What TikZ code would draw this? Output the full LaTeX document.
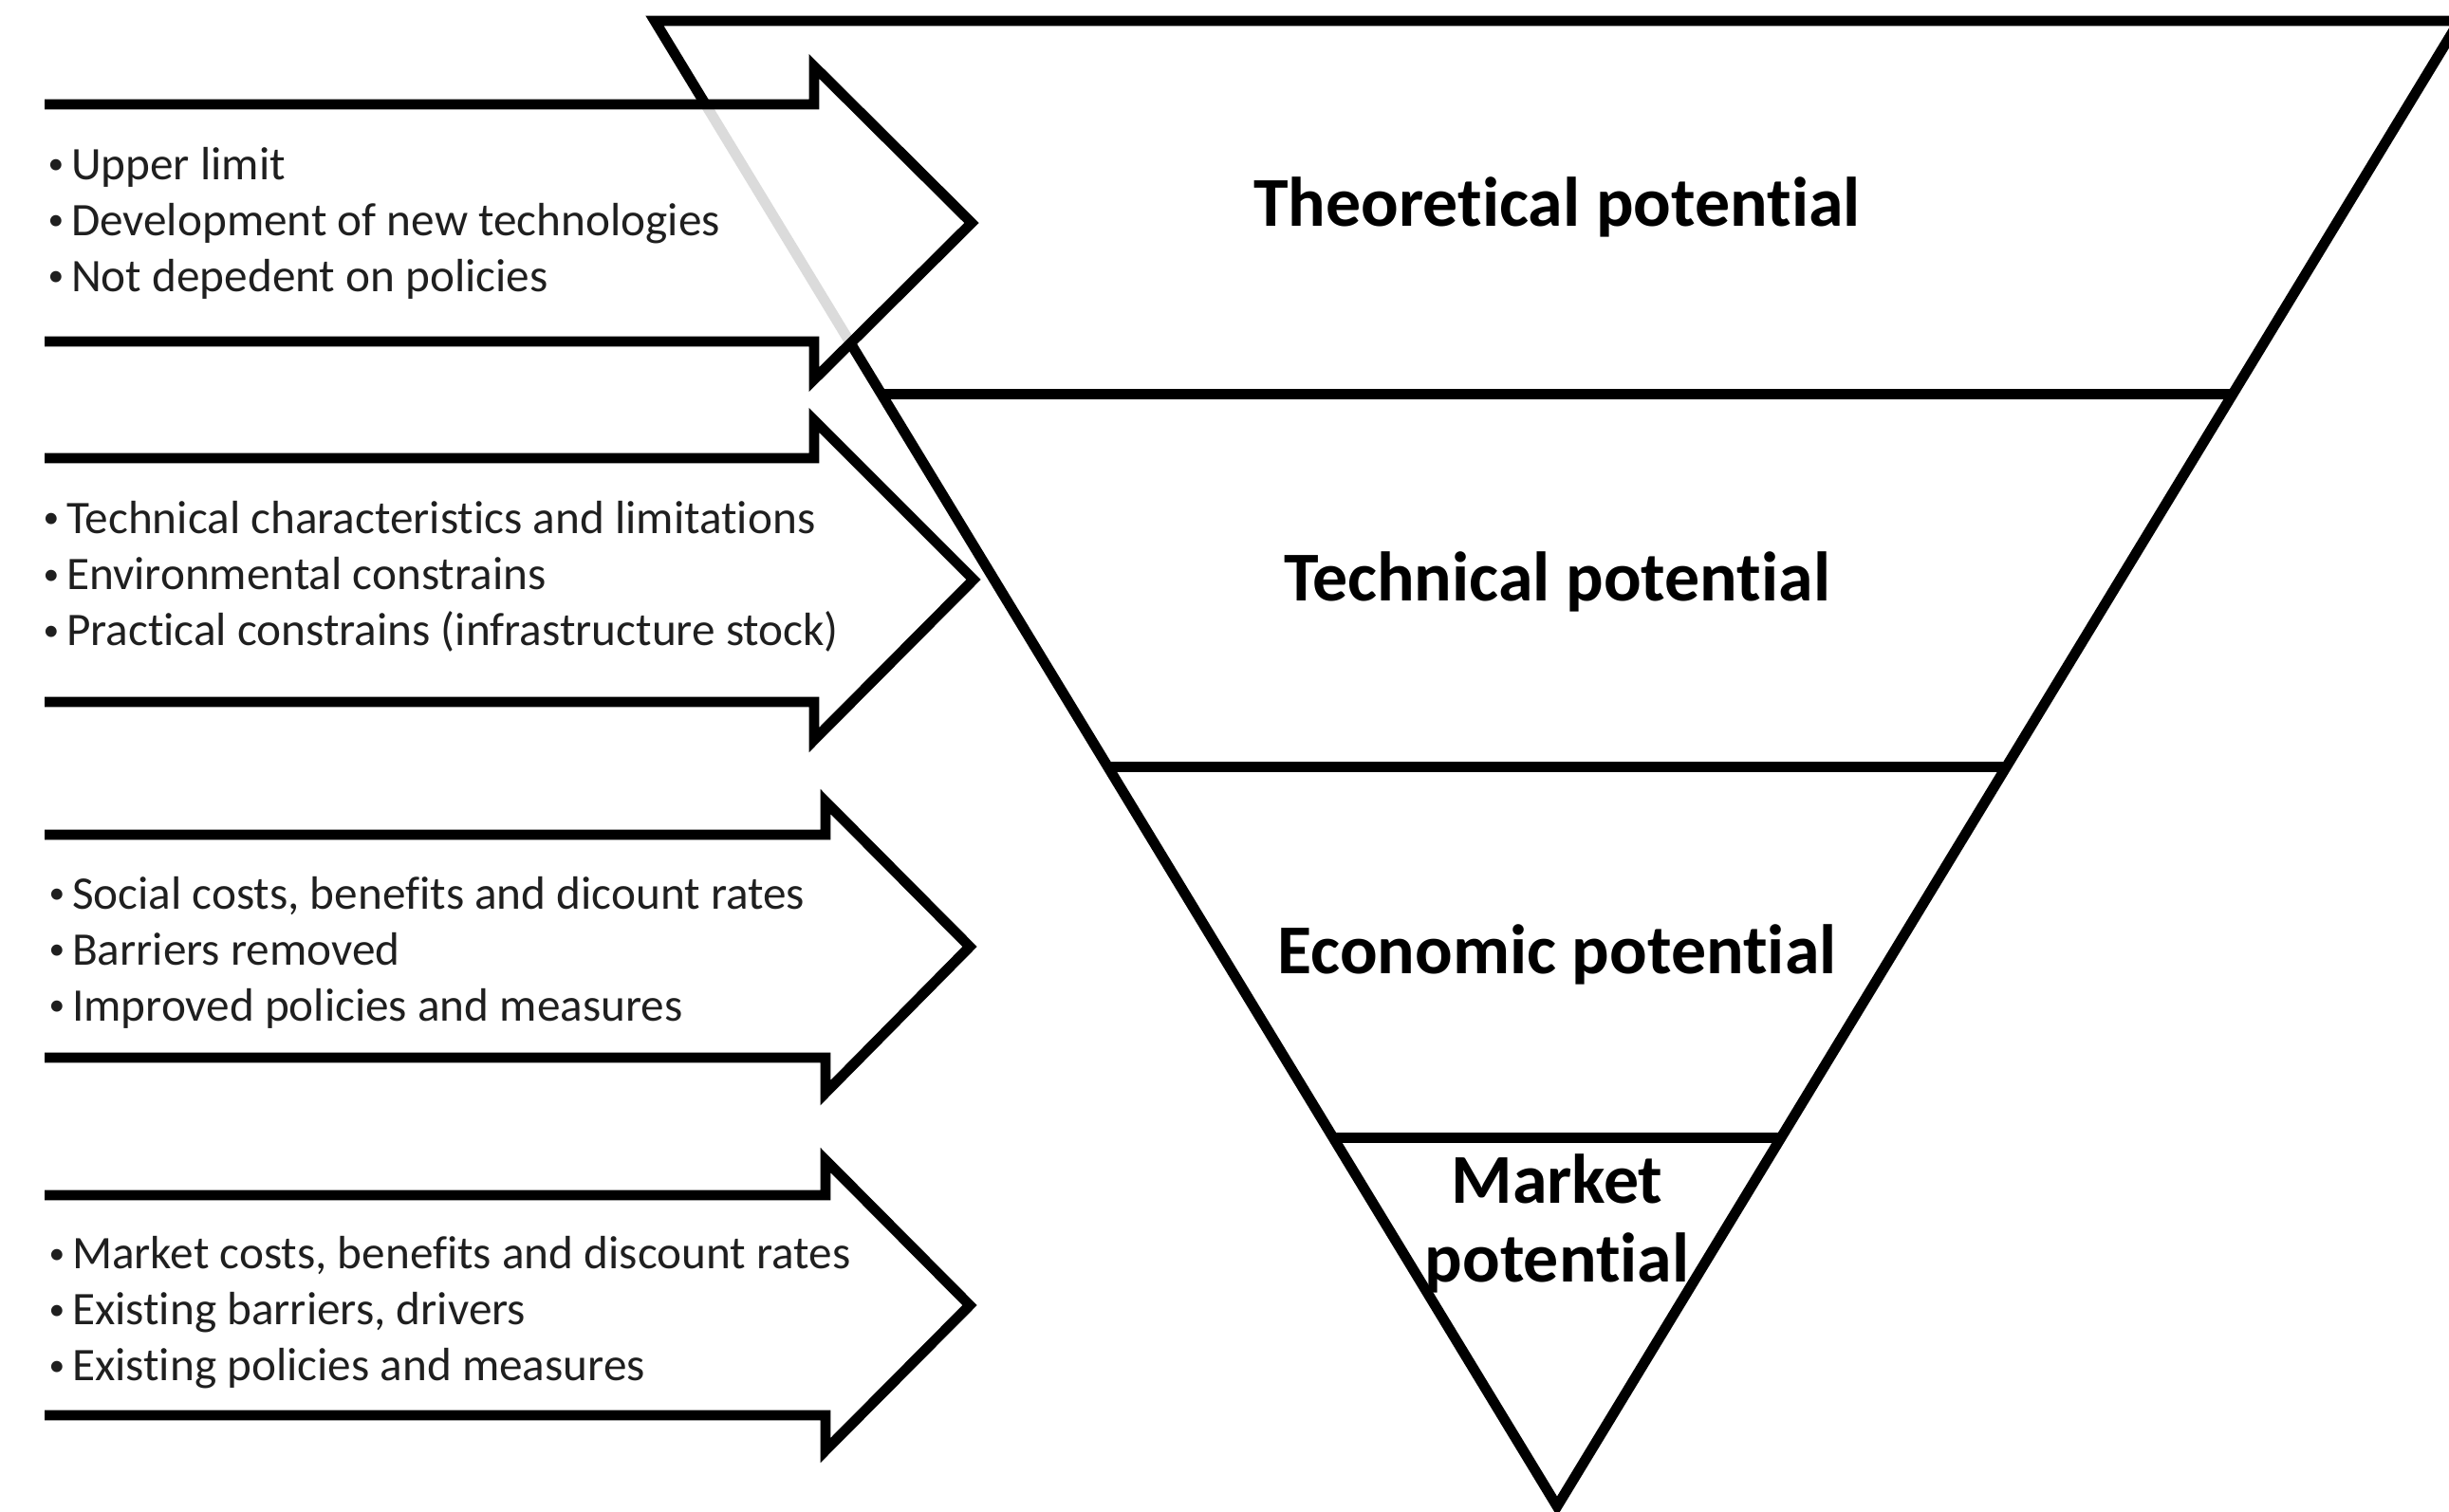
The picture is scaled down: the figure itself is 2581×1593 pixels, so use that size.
\documentclass[tikz,border=0pt]{standalone}
\usepackage{fontspec}
\setmainfont{Carlito}[Ligatures={NoCommon}]
\usetikzlibrary{calc}
\newcommand\bu{\raisebox{1.6pt}{\fontsize{9.5}{9.5}\selectfont •}\kern 2.2pt}
\begin{document}
\begin{tikzpicture}[x=0.01cm,y=-0.01cm,
  edge/.style={line width=3.1pt, line join=miter, miter limit=20},
  bul/.style={anchor=west, inner sep=0pt, align=left, text=black!88,
    font=\fontsize{14}{16.8}\selectfont},
  ttl/.style={inner sep=0pt, align=center,
    font=\fontsize{21}{23.6}\selectfont\bfseries}]
\useasboundingbox (0,0) rectangle (2581,1593);
% funnel
\coordinate (TL) at (690,22);
\coordinate (TR) at (2592,22);
\coordinate (V) at (1641,1588);
\draw[edge] (TL) -- (TR) -- (V) -- cycle;
\draw[edge] ($(TL)!0.251!(V)$) -- ($(TR)!0.251!(V)$);
\draw[edge] ($(TL)!0.502!(V)$) -- ($(TR)!0.502!(V)$);
\draw[edge] ($(TL)!0.752!(V)$) -- ($(TR)!0.752!(V)$);
% arrows
\draw[edge, fill=white, fill opacity=0.86] (47,110) -- (858,110) -- (858,70) -- (1024,235) -- (858,400) -- (858,360) -- (47,360);
\draw[edge] (47,483) -- (858,483) -- (858,443) -- (1026,611) -- (858,780) -- (858,740) -- (47,740);
\draw[edge] (47,880) -- (870,880) -- (870,845) -- (1022,998) -- (870,1152) -- (870,1115) -- (47,1115);
\draw[edge] (47,1260) -- (870,1260) -- (870,1223) -- (1022,1376) -- (870,1529) -- (870,1492) -- (47,1492);
% texts
\node[bul] (t1) at (50,235) {\bu Upper limit\\\bu Development of new technologies\\\bu Not depedent on policies};
\node[bul] (t2) at (45,608) {\bu Technical characteristics and limitations\\\bu Environmental constrains\\\bu Practical constrains (infrastructure stock)};
\node[bul] (t3) at (51,1004) {\bu Social costs, benefits and dicount rates\\\bu Barriers removed\\\bu Improved policies and measures};
\node[bul] (t4) at (51,1384) {\bu Market costs, benefits and discount rates\\\bu Existing barriers, drivers\\\bu Existing policies and measures};
\node[ttl] (p1) at (1641,218) {Theoretical potential};
\node[ttl] (p2) at (1641,613) {Technical potential};
\node[ttl] (p3) at (1641,1006) {Economic potential};
\node[ttl] (p4) at (1641,1290) {Market\\potential};
\end{tikzpicture}
\end{document}
